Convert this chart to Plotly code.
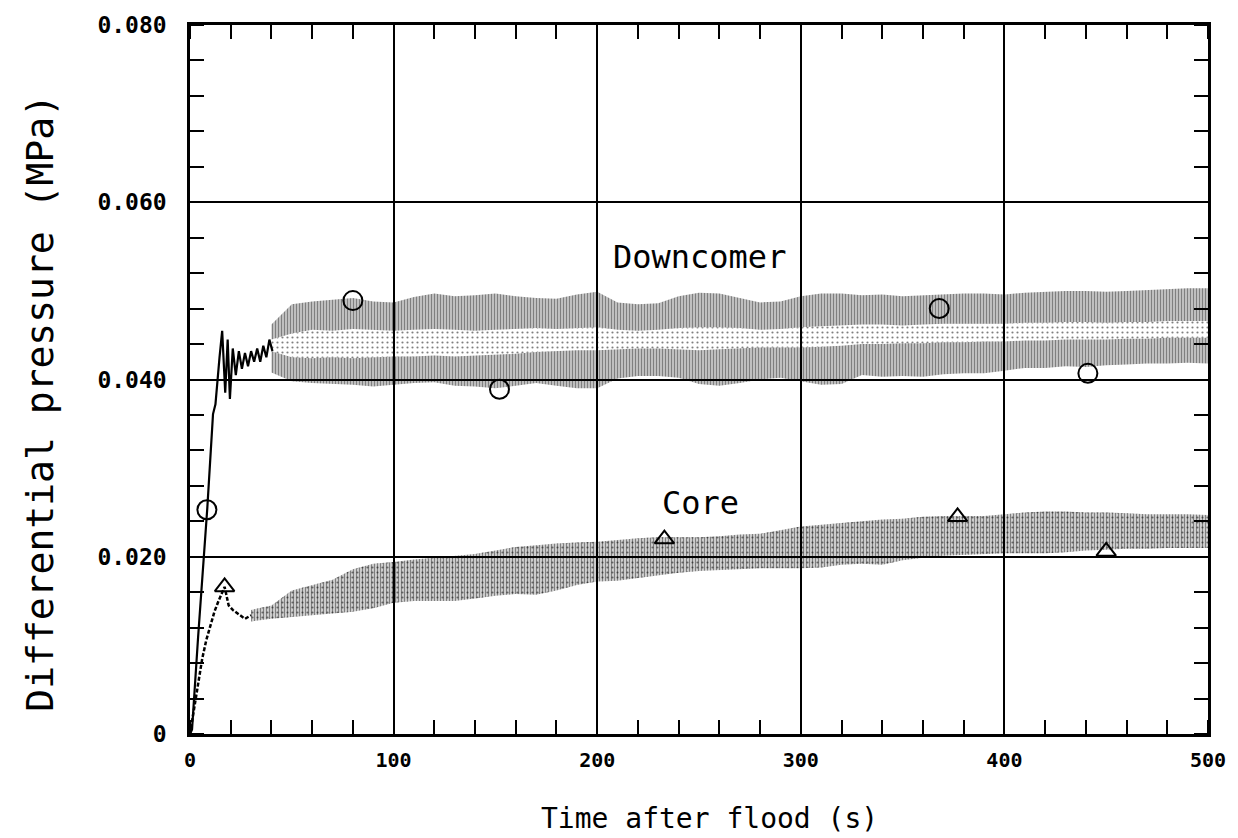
import plotly.graph_objects as go

# ---------------- data ----------------
# Downcomer: initial rise and settling (s, MPa)
dc_start_t = [0, 1, 4, 8.5, 11.3, 12.5, 14.5, 15.8, 17.3, 18.5, 19.6, 21, 22.5, 24, 25.5,
              27, 28.5, 30, 31.5, 33, 34.5, 36, 37.5, 39, 40.5]
dc_start_v = [0, 0.0005, 0.011, 0.0255, 0.0361, 0.0372, 0.0425, 0.0455, 0.0385, 0.0445,
              0.0378, 0.0435, 0.0405, 0.0432, 0.0412, 0.0430, 0.0415, 0.0432, 0.0420,
              0.0435, 0.0420, 0.0438, 0.0425, 0.0445, 0.0432]

# Downcomer oscillation band (10 s grid): outer envelope and inner edges
dc_t = [40, 50, 60, 70, 80, 90, 100, 110, 120, 130, 140, 150, 160, 170, 180, 190, 200,
        210, 220, 230, 240, 250, 260, 270, 280, 290, 300, 310, 320, 330, 340, 350, 360,
        370, 380, 390, 400, 410, 420, 430, 440, 450, 460, 470, 480, 490, 500]
dc_top = [0.0462, 0.0485, 0.0488, 0.0490, 0.0492, 0.0488, 0.0487, 0.0493, 0.0497, 0.0494,
          0.0495, 0.0497, 0.0494, 0.0492, 0.0491, 0.0496, 0.0499, 0.0487, 0.0485, 0.0486,
          0.0494, 0.0498, 0.0497, 0.0492, 0.0487, 0.0488, 0.0494, 0.0497, 0.0497, 0.0495,
          0.0496, 0.0494, 0.0495, 0.0496, 0.0497, 0.0497, 0.0496, 0.0498, 0.0499, 0.0500,
          0.0500, 0.0499, 0.0500, 0.0501, 0.0502, 0.0503, 0.0503]
dc_mid_hi = [0.0445, 0.0452, 0.0456, 0.0455, 0.0457, 0.0456, 0.0455, 0.0456, 0.0457, 0.0456,
             0.0455, 0.0456, 0.0457, 0.0458, 0.0457, 0.0458, 0.0459, 0.0456, 0.0455, 0.0456,
             0.0458, 0.0459, 0.0459, 0.0458, 0.0456, 0.0457, 0.0459, 0.0460, 0.0461, 0.0462,
             0.0462, 0.0461, 0.0462, 0.0463, 0.0463, 0.0463, 0.0463, 0.0464, 0.0464, 0.0465,
             0.0465, 0.0464, 0.0465, 0.0465, 0.0466, 0.0466, 0.0466]
dc_mid_lo = [0.0432, 0.0425, 0.0424, 0.0425, 0.0424, 0.0425, 0.0426, 0.0426, 0.0427, 0.0426,
             0.0427, 0.0428, 0.0429, 0.0431, 0.0432, 0.0433, 0.0433, 0.0434, 0.0435, 0.0435,
             0.0434, 0.0433, 0.0434, 0.0435, 0.0436, 0.0436, 0.0436, 0.0437, 0.0438, 0.0440,
             0.0440, 0.0441, 0.0441, 0.0442, 0.0442, 0.0443, 0.0443, 0.0444, 0.0444, 0.0445,
             0.0445, 0.0445, 0.0446, 0.0446, 0.0447, 0.0447, 0.0447]
dc_bot = [0.0408, 0.0398, 0.0396, 0.0395, 0.0394, 0.0392, 0.0394, 0.0396, 0.0397, 0.0393,
          0.0392, 0.0390, 0.0393, 0.0396, 0.0393, 0.0390, 0.0390, 0.0401, 0.0404, 0.0404,
          0.0402, 0.0395, 0.0393, 0.0396, 0.0400, 0.0402, 0.0398, 0.0394, 0.0395, 0.0405,
          0.0403, 0.0404, 0.0403, 0.0406, 0.0407, 0.0407, 0.0410, 0.0413, 0.0413, 0.0415,
          0.0414, 0.0416, 0.0417, 0.0418, 0.0418, 0.0419, 0.0418]

# Core: initial rise
core_start_t = [0, 2, 4, 6, 8, 10, 12, 14, 16, 17, 19, 21, 24, 27, 30]
core_start_v = [0, 0.0030, 0.0060, 0.0085, 0.0106, 0.0122, 0.0138, 0.0150, 0.0160, 0.0166,
                0.0145, 0.0140, 0.0135, 0.0130, 0.0134]

# Core oscillation band (10 s grid)
core_t = [30, 40, 50, 60, 70, 80, 90, 100, 110, 120, 130, 140, 150, 160, 170, 180, 190,
          200, 210, 220, 230, 240, 250, 260, 270, 280, 290, 300, 310, 320, 330, 340, 350,
          360, 370, 380, 390, 400, 410, 420, 430, 440, 450, 460, 470, 480, 490, 500]
core_top = [0.0140, 0.0145, 0.0162, 0.0168, 0.0174, 0.0186, 0.0192, 0.0194, 0.0197, 0.0199,
            0.0201, 0.0203, 0.0207, 0.0211, 0.0213, 0.0215, 0.0216, 0.0217, 0.0219, 0.0221,
            0.0222, 0.0222, 0.0222, 0.0223, 0.0225, 0.0226, 0.0230, 0.0234, 0.0236, 0.0238,
            0.0240, 0.0242, 0.0243, 0.0245, 0.0246, 0.0246, 0.0246, 0.0248, 0.0250, 0.0251,
            0.0251, 0.0250, 0.0250, 0.0249, 0.0248, 0.0248, 0.0248, 0.0247]
core_bot = [0.0127, 0.0130, 0.0132, 0.0134, 0.0136, 0.0138, 0.0142, 0.0148, 0.0150, 0.0150,
            0.0150, 0.0153, 0.0156, 0.0158, 0.0157, 0.0162, 0.0168, 0.0172, 0.0173, 0.0176,
            0.0179, 0.0182, 0.0184, 0.0185, 0.0186, 0.0187, 0.0187, 0.0187, 0.0188, 0.0191,
            0.0192, 0.0191, 0.0196, 0.0199, 0.0201, 0.0202, 0.0203, 0.0204, 0.0204, 0.0204,
            0.0205, 0.0207, 0.0208, 0.0209, 0.0209, 0.0210, 0.0210, 0.0210]

# Symbols identifying each curve
dc_mark_t = [8.3, 80, 152, 368, 441]
dc_mark_v = [0.0253, 0.0489, 0.0389, 0.0480, 0.0407]
core_mark_t = [17, 233, 377, 450]
core_mark_v = [0.0166, 0.0220, 0.0245, 0.0206]

x_ticks = [0, 100, 200, 300, 400, 500]
y_ticks = [0, 0.020, 0.040, 0.060, 0.080]
y_tick_text = ["0", "0.020", "0.040", "0.060", "0.080"]

FONT = "DejaVu Sans Mono"
INK = "black"

fig = go.Figure()


def hatched_band(t, lo, hi, shape, size, solidity):
    """Fill the region between two envelopes with a pattern of strokes."""
    fig.add_trace(go.Scatter(x=t, y=lo, mode="lines", line=dict(width=0),
                             hoverinfo="skip", showlegend=False))
    fig.add_trace(go.Scatter(x=t, y=hi, mode="lines", line=dict(width=0),
                             fill="tonexty", fillcolor="rgba(0,0,0,0)",
                             fillpattern=dict(shape=shape, size=size, solidity=solidity,
                                              fgcolor=INK, bgcolor="rgba(0,0,0,0)",
                                              fillmode="overlay"),
                             hoverinfo="skip", showlegend=False))


# Downcomer band: dense strokes at the top and bottom, speckle between
hatched_band(dc_t, dc_mid_hi, dc_top, "|", 3, 0.67)
hatched_band(dc_t, dc_mid_lo, dc_mid_hi, ".", 5, 0.15)
hatched_band(dc_t, dc_bot, dc_mid_lo, "|", 3, 0.67)

# Core band
hatched_band(core_t, core_bot, core_top, "|", 3, 0.6)
hatched_band(core_t, core_bot, core_top, ".", 5, 0.15)

# Start-up transients
fig.add_trace(go.Scatter(x=dc_start_t, y=dc_start_v, mode="lines",
                         line=dict(color=INK, width=2.2), showlegend=False))
fig.add_trace(go.Scatter(x=core_start_t, y=core_start_v, mode="lines",
                         line=dict(color=INK, width=2.5, dash="4px,2px"), showlegend=False))

# Curve symbols
fig.add_trace(go.Scatter(x=dc_mark_t, y=dc_mark_v, mode="markers",
                         marker=dict(symbol="circle-open", size=19, color=INK,
                                     line=dict(width=2, color=INK)), showlegend=False))
fig.add_trace(go.Scatter(x=core_mark_t, y=core_mark_v, mode="markers",
                         marker=dict(symbol="triangle-up-open", size=17, color=INK,
                                     line=dict(width=2, color=INK)), showlegend=False))

# Curve names
fig.add_annotation(x=250, y=0.0538, text="Downcomer", showarrow=False,
                   font=dict(family=FONT, size=32, color=INK))
fig.add_annotation(x=250.5, y=0.0261, text="Core", showarrow=False,
                   font=dict(family=FONT, size=32, color=INK))

# Axis titles
fig.add_annotation(xref="paper", yref="paper", x=(712 - 190) / 1022, y=(734 - 820) / 720,
                   xanchor="center", yanchor="middle",
                   text="Time after flood (s)", showarrow=False,
                   font=dict(family=FONT, size=28, color=INK))
fig.add_annotation(xref="paper", yref="paper", x=(40 - 190) / 1022, y=(734 - 398) / 720,
                   xanchor="center", yanchor="middle",
                   text="Differential pressure (MPa)", showarrow=False, textangle=-90,
                   font=dict(family=FONT, size=38, color=INK))

fig.update_xaxes(
    range=[0, 500], tickvals=x_ticks, ticktext=[str(v) for v in x_ticks],
    showgrid=True, gridcolor=INK, gridwidth=1.6, zeroline=False,
    showline=True, linecolor=INK, linewidth=2.5, mirror="ticks",
    ticks="", ticklabelstandoff=6,
    minor=dict(dtick=20, ticks="inside", ticklen=14, tickwidth=1.6, tickcolor=INK,
               showgrid=False),
    tickfont=dict(family=FONT, size=20, color=INK, weight="bold"),
)
fig.update_yaxes(
    range=[0, 0.08], tickvals=y_ticks, ticktext=y_tick_text,
    showgrid=True, gridcolor=INK, gridwidth=1.6, zeroline=False,
    showline=True, linecolor=INK, linewidth=2.5, mirror="ticks",
    ticks="", ticklabelstandoff=16,
    minor=dict(dtick=0.004, ticks="inside", ticklen=14, tickwidth=1.6, tickcolor=INK,
               showgrid=False),
    tickfont=dict(family=FONT, size=23, color=INK, weight="bold"),
)

fig.update_layout(
    width=1238, height=838,
    margin=dict(l=190, r=26, t=14, b=104),
    paper_bgcolor="white", plot_bgcolor="white",
    showlegend=False,
)

fig.write_html("out.html")
